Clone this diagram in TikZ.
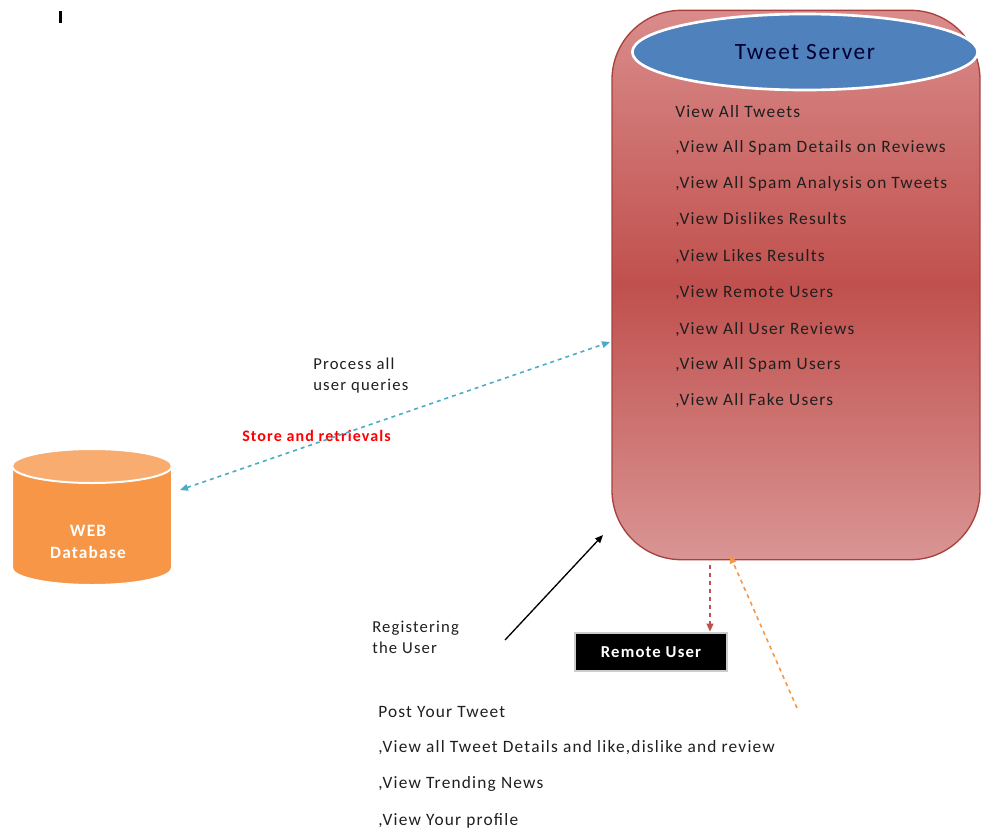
\documentclass[tikz,border=0pt]{standalone}
\usepackage{fontspec}
\setmainfont{Carlito}[LetterSpace=7]
\usetikzlibrary{arrows.meta,shapes.geometric,calc}
\definecolor{srvtop}{HTML}{D98C8B}
\definecolor{srvmid}{HTML}{C0504D}
\definecolor{srvbot}{HTML}{D99594}
\definecolor{srvline}{HTML}{A8413E}
\definecolor{hdrblue}{HTML}{4F81BD}
\definecolor{dborange}{HTML}{F79646}
\definecolor{dbtop}{HTML}{F9AC70}
\definecolor{qcyan}{HTML}{4BACC6}
\tikzset{
  item/.style={anchor=west, inner sep=0pt, font=\fontsize{13}{15}\selectfont, text=black!88},
  lbl/.style={anchor=north west, inner sep=0pt, align=left, font=\fontsize{12.5}{15.8}\selectfont, text=black!88},
}
\begin{document}
\begin{tikzpicture}[x=0.75pt, y=-0.75pt, >={Triangle[length=6pt,width=5pt]}]
\useasboundingbox (0,0) rectangle (981,832);
\fill[black] (59,11) rectangle (62,23);
% server
\node[draw=srvline, line width=1pt, rectangle, rounded corners=52pt, minimum width=276pt, minimum height=412pt,
  top color=srvtop, bottom color=srvbot, middle color=srvmid, inner sep=0pt] (srv) at (796,285) {};
\node[ellipse, draw=white, line width=2pt, fill=hdrblue, minimum width=259pt, minimum height=57pt,
  font=\fontsize{17.5}{20}\selectfont, text=black!80!blue] (hdr) at (805,52) {Tweet Server};
\node[item] (s1) at (675,112) {View All Tweets};
\node[item] (s2) at (675,148) {,View All Spam Details on Reviews};
\node[item] (s3) at (675,184) {,View All Spam Analysis on Tweets};
\node[item] (s4) at (675,220) {,View Dislikes Results};
\node[item] (s5) at (675,257) {,View Likes Results};
\node[item] (s6) at (675,293) {,View Remote Users};
\node[item] (s7) at (675,330) {,View All User Reviews};
\node[item] (s8) at (675,365) {,View All Spam Users};
\node[item] (s9) at (675,401) {,View All Fake Users};
% database
\path[fill=dborange, draw=white, line width=1.5pt] (12,466) -- (12,568) arc[start angle=180, end angle=0, x radius=80, y radius=17] -- (172,466) -- cycle;
\path[fill=dbtop, draw=white, line width=1.5pt] (92,466) ellipse[x radius=80, y radius=17];
\node[align=center, text=white, font=\bfseries\fontsize{13}{16.5}\selectfont, inner sep=0pt] (db) at (88,542) {WEB\\Database};
% remote user
\node[rectangle, fill=black, draw=gray!40, line width=1.5pt, minimum width=114pt, minimum height=29pt,
  text=white, font=\bfseries\fontsize{12.5}{14}\selectfont] (ru) at (651,652) {Remote User};
% labels
\node[lbl] (pq) at (313,358) {Process all\\user queries};
\node[lbl, text=red, font=\bfseries\fontsize{12}{14}\selectfont] (sr) at (242,430) {Store and retrievals};
\node[lbl] (reg) at (372,621) {Registering\\the User};
\node[item] (u1) at (378,712) {Post Your Tweet};
\node[item] (u2) at (378,748) {,View all Tweet Details  and like,dislike and review};
\node[item] (u3) at (378,784) {,View Trending News};
\node[item] (u4) at (378,821) {,View Your profile};
% connectors
\coordinate (q0) at (180,490);
\coordinate (q1) at (610,342);
\coordinate (r1) at (505,640);
\coordinate (r2) at (603,535);
\coordinate (o1) at (797,708);
\draw[<->, qcyan, dashed, line width=1.2pt] (q0) -- (q1);
\draw[->, black, line width=1pt] (r1) -- (r2);
\draw[->, srvmid, dashed, line width=1.2pt] ($(srv.south)+(-86,5)$) -- ($(ru.north)+(59,0)$);
\draw[->, dborange, dashed, line width=1.2pt] (o1) -- ($(srv.south)+(-66,-5)$);
\end{tikzpicture}
\end{document}
